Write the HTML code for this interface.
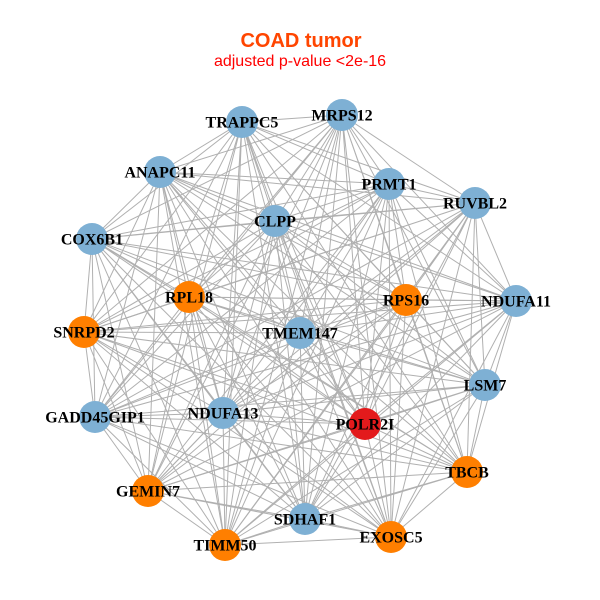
<!DOCTYPE html>
<html><head><meta charset="utf-8"><style>
html,body{margin:0;padding:0;background:#fff;}
svg{display:block;}
.t{font-family:"Liberation Serif",serif;font-weight:bold;font-size:16px;fill:#000;text-anchor:middle;}
</style></head><body>
<svg width="600" height="600" viewBox="0 0 600 600" xmlns="http://www.w3.org/2000/svg">
<rect width="600" height="600" fill="#fff"/>
<text x="301" y="47" text-anchor="middle" font-family="Liberation Sans, sans-serif" font-weight="bold" font-size="20" fill="#FF4500">COAD tumor</text>
<text x="300" y="66" text-anchor="middle" font-family="Liberation Sans, sans-serif" font-size="16" fill="#FF0000">adjusted p-value &lt;2e-16</text>
<g fill="none" stroke="#b0b0b0" stroke-width="1">
<path d="M342 115 L242 122 L342 115 L160 172 L342 115 L389 184 L342 115 L475 203 L342 115 L275 221 L342 115 L92 239 L342 115 L189 297 L342 115 L406 300 L342 115 L516 301 L342 115 L84 332 L342 115 L300 333 L342 115 L485 385 L342 115 L95 417 L342 115 L223 413 L342 115 L365 424 L342 115 L467 472 L342 115 L148 491 L342 115 L305 519 L342 115 L391 537 L342 115 L225 545"/>
<path d="M242 122 L160 172 L242 122 L389 184 L242 122 L475 203 L242 122 L275 221 L242 122 L92 239 L242 122 L189 297 L242 122 L406 300 L242 122 L516 301 L242 122 L84 332 L242 122 L300 333 L242 122 L485 385 L242 122 L95 417 L242 122 L223 413 L242 122 L365 424 L242 122 L467 472 L242 122 L148 491 L242 122 L305 519 L242 122 L391 537 L242 122 L225 545"/>
<path d="M160 172 L389 184 L160 172 L475 203 L160 172 L275 221 L160 172 L92 239 L160 172 L189 297 L160 172 L406 300 L160 172 L516 301 L160 172 L84 332 L160 172 L300 333 L160 172 L485 385 L160 172 L95 417 L160 172 L223 413 L160 172 L365 424 L160 172 L467 472 L160 172 L148 491 L160 172 L305 519 L160 172 L391 537 L160 172 L225 545"/>
<path d="M389 184 L475 203 L389 184 L275 221 L389 184 L92 239 L389 184 L189 297 L389 184 L406 300 L389 184 L516 301 L389 184 L84 332 L389 184 L300 333 L389 184 L485 385 L389 184 L95 417 L389 184 L223 413 L389 184 L365 424 L389 184 L467 472 L389 184 L148 491 L389 184 L305 519 L389 184 L391 537 L389 184 L225 545"/>
<path d="M475 203 L275 221 L475 203 L92 239 L475 203 L189 297 L475 203 L406 300 L475 203 L516 301 L475 203 L84 332 L475 203 L300 333 L475 203 L485 385 L475 203 L95 417 L475 203 L223 413 L475 203 L365 424 L475 203 L467 472 L475 203 L148 491 L475 203 L305 519 L475 203 L391 537 L475 203 L225 545"/>
<path d="M275 221 L92 239 L275 221 L189 297 L275 221 L406 300 L275 221 L516 301 L275 221 L84 332 L275 221 L300 333 L275 221 L485 385 L275 221 L95 417 L275 221 L223 413 L275 221 L365 424 L275 221 L467 472 L275 221 L148 491 L275 221 L305 519 L275 221 L391 537 L275 221 L225 545"/>
<path d="M92 239 L189 297 L92 239 L406 300 L92 239 L516 301 L92 239 L84 332 L92 239 L300 333 L92 239 L485 385 L92 239 L95 417 L92 239 L223 413 L92 239 L365 424 L92 239 L467 472 L92 239 L148 491 L92 239 L305 519 L92 239 L391 537 L92 239 L225 545"/>
<path d="M189 297 L406 300 L189 297 L516 301 L189 297 L84 332 L189 297 L300 333 L189 297 L485 385 L189 297 L95 417 L189 297 L223 413 L189 297 L365 424 L189 297 L467 472 L189 297 L148 491 L189 297 L305 519 L189 297 L391 537 L189 297 L225 545"/>
<path d="M406 300 L516 301 L406 300 L84 332 L406 300 L300 333 L406 300 L485 385 L406 300 L95 417 L406 300 L223 413 L406 300 L365 424 L406 300 L467 472 L406 300 L148 491 L406 300 L305 519 L406 300 L391 537 L406 300 L225 545"/>
<path d="M516 301 L84 332 L516 301 L300 333 L516 301 L485 385 L516 301 L95 417 L516 301 L223 413 L516 301 L365 424 L516 301 L467 472 L516 301 L148 491 L516 301 L305 519 L516 301 L391 537 L516 301 L225 545"/>
<path d="M84 332 L300 333 L84 332 L485 385 L84 332 L95 417 L84 332 L223 413 L84 332 L365 424 L84 332 L467 472 L84 332 L148 491 L84 332 L305 519 L84 332 L391 537 L84 332 L225 545"/>
<path d="M300 333 L485 385 L300 333 L95 417 L300 333 L223 413 L300 333 L365 424 L300 333 L467 472 L300 333 L148 491 L300 333 L305 519 L300 333 L391 537 L300 333 L225 545"/>
<path d="M485 385 L95 417 L485 385 L223 413 L485 385 L365 424 L485 385 L467 472 L485 385 L148 491 L485 385 L305 519 L485 385 L391 537 L485 385 L225 545"/>
<path d="M95 417 L223 413 L95 417 L365 424 L95 417 L467 472 L95 417 L148 491 L95 417 L305 519 L95 417 L391 537 L95 417 L225 545"/>
<path d="M223 413 L365 424 L223 413 L467 472 L223 413 L148 491 L223 413 L305 519 L223 413 L391 537 L223 413 L225 545"/>
<path d="M365 424 L467 472 L365 424 L148 491 L365 424 L305 519 L365 424 L391 537 L365 424 L225 545"/>
<path d="M467 472 L148 491 L467 472 L305 519 L467 472 L391 537 L467 472 L225 545"/>
<path d="M148 491 L305 519 L148 491 L391 537 L148 491 L225 545"/>
<path d="M305 519 L391 537 L305 519 L225 545"/>
<path d="M391 537 L225 545"/>
</g>
<g>
<circle cx="342" cy="115" r="16" fill="#7EB0D4"/>
<circle cx="242" cy="122" r="16" fill="#7EB0D4"/>
<circle cx="160" cy="172" r="16" fill="#7EB0D4"/>
<circle cx="389" cy="184" r="16" fill="#7EB0D4"/>
<circle cx="475" cy="203" r="16" fill="#7EB0D4"/>
<circle cx="275" cy="221" r="16" fill="#7EB0D4"/>
<circle cx="92" cy="239" r="16" fill="#7EB0D4"/>
<circle cx="189" cy="297" r="16" fill="#FF7F00"/>
<circle cx="406" cy="300" r="16" fill="#FF7F00"/>
<circle cx="516" cy="301" r="16" fill="#7EB0D4"/>
<circle cx="84" cy="332" r="16" fill="#FF7F00"/>
<circle cx="300" cy="333" r="16" fill="#7EB0D4"/>
<circle cx="485" cy="385" r="16" fill="#7EB0D4"/>
<circle cx="95" cy="417" r="16" fill="#7EB0D4"/>
<circle cx="223" cy="413" r="16" fill="#7EB0D4"/>
<circle cx="365" cy="424" r="16" fill="#E31A1C"/>
<circle cx="467" cy="472" r="16" fill="#FF7F00"/>
<circle cx="148" cy="491" r="16" fill="#FF7F00"/>
<circle cx="305" cy="519" r="16" fill="#7EB0D4"/>
<circle cx="391" cy="537" r="16" fill="#FF7F00"/>
<circle cx="225" cy="545" r="16" fill="#FF7F00"/>
</g>
<g class="t">
<text class="t" x="342" y="120.5">MRPS12</text>
<text class="t" x="242" y="127.5">TRAPPC5</text>
<text class="t" x="160" y="177.5">ANAPC11</text>
<text class="t" x="389" y="189.5">PRMT1</text>
<text class="t" x="475" y="208.5">RUVBL2</text>
<text class="t" x="275" y="226.5">CLPP</text>
<text class="t" x="92" y="244.5">COX6B1</text>
<text class="t" x="189" y="302.5">RPL18</text>
<text class="t" x="406" y="305.5">RPS16</text>
<text class="t" x="516" y="306.5">NDUFA11</text>
<text class="t" x="84" y="337.5">SNRPD2</text>
<text class="t" x="300" y="338.5">TMEM147</text>
<text class="t" x="485" y="390.5">LSM7</text>
<text class="t" x="95" y="422.5">GADD45GIP1</text>
<text class="t" x="223" y="418.5">NDUFA13</text>
<text class="t" x="365" y="429.5">POLR2I</text>
<text class="t" x="467" y="477.5">TBCB</text>
<text class="t" x="148" y="496.5">GEMIN7</text>
<text class="t" x="305" y="524.5">SDHAF1</text>
<text class="t" x="391" y="542.5">EXOSC5</text>
<text class="t" x="225" y="550.5">TIMM50</text>
</g>
</svg>
</body></html>
